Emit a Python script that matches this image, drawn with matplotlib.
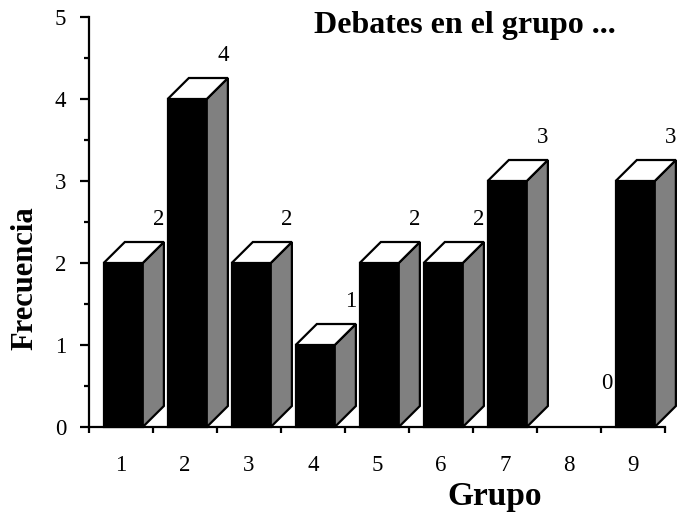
import numpy as np
import matplotlib.pyplot as plt
from matplotlib.patches import Polygon, Rectangle
from matplotlib.ticker import MultipleLocator

plt.rcParams['font.family'] = ['Liberation Serif', 'DejaVu Serif']

# datos
grupos = ['1', '2', '3', '4', '5', '6', '7', '8', '9']
frecuencia = [2, 4, 2, 1, 2, 2, 3, 0, 3]

# geometria de las barras 3D (en unidades de datos)
ancho = 0.61
desp = 0.27     # borde izquierdo respecto al centro del grupo
prof_x = 0.33
prof_y = 0.256

fig = plt.figure(figsize=(6.77, 5.18), dpi=100)
ax = fig.add_axes([89 / 677, 91 / 518, 576 / 677, 410 / 518])

pos = np.arange(1, len(grupos) + 1)

for x, v in zip(pos, frecuencia):
    x0 = x - desp
    x1 = x0 + ancho
    if v > 0:
        frente = Rectangle((x0, 0), ancho, v, facecolor='black',
                           edgecolor='black', linewidth=1.6, clip_on=False, zorder=3)
        tapa = Polygon([(x0, v), (x0 + prof_x, v + prof_y),
                        (x1 + prof_x, v + prof_y), (x1, v)], closed=True,
                       facecolor='white', edgecolor='black', linewidth=1.6,
                       clip_on=False, zorder=3)
        lado = Polygon([(x1, 0), (x1 + prof_x, prof_y),
                        (x1 + prof_x, v + prof_y), (x1, v)], closed=True,
                       facecolor='#808080', edgecolor='black', linewidth=1.6,
                       clip_on=False, zorder=3)
        ax.add_patch(frente)
        ax.add_patch(lado)
        ax.add_patch(tapa)
    ax.annotate(str(v), (x1 + prof_x, v + prof_y), xytext=(-3.6, 16.5),
                textcoords='offset points', ha='center', va='center',
                fontsize=16.5, annotation_clip=False)

ax.set_xlim(0.5, len(grupos) + 0.5)
ax.set_ylim(0, 5)

ax.spines['top'].set_visible(False)
ax.spines['right'].set_visible(False)
ax.spines['left'].set_linewidth(1.6)
ax.spines['bottom'].set_linewidth(1.6)

ax.set_xticks(pos)
ax.set_xticklabels(grupos, fontsize=16.5)
ax.xaxis.set_minor_locator(MultipleLocator(1, offset=0.5))
ax.tick_params(axis='x', which='major', length=0, pad=20)
ax.tick_params(axis='x', which='minor', length=4.5, width=1.6, direction='out')

ax.yaxis.set_major_locator(MultipleLocator(1))
ax.yaxis.set_minor_locator(MultipleLocator(0.5))
ax.tick_params(axis='y', which='major', length=6.5, width=1.6, pad=10, labelsize=16.5)
ax.tick_params(axis='y', which='minor', length=3.6, width=1.6)

fig.text(465 / 677, 1 - 33 / 518, 'Debates en el grupo ...', ha='center',
         va='baseline', fontsize=23, fontweight='bold')
fig.text(495 / 677, 1 - 505 / 518, 'Grupo', ha='center', va='baseline',
         fontsize=24, fontweight='bold')
fig.text(25 / 677, 1 - 278 / 518, 'Frecuencia', ha='center', va='center',
         rotation=90, fontsize=22, fontweight='bold')

fig.savefig('out.png', dpi=100)
